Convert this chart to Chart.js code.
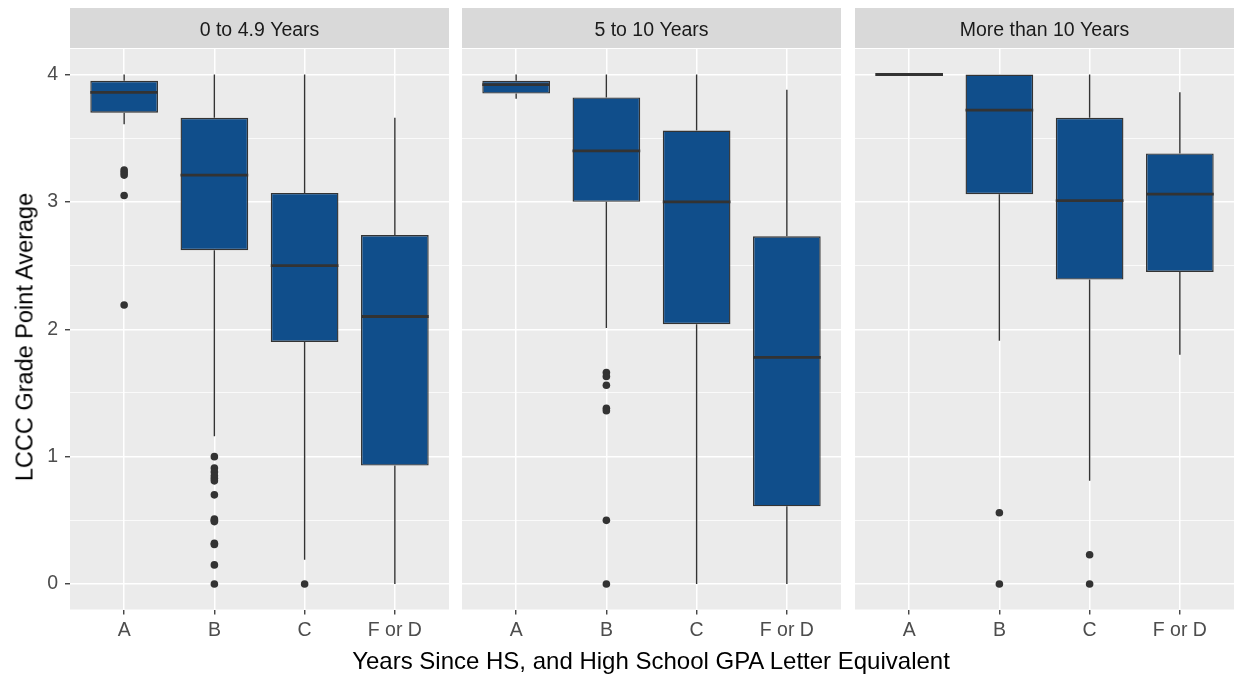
<!DOCTYPE html>
<html>
<head>
<meta charset="utf-8">
<script src="https://cdn.jsdelivr.net/npm/chart.js@4.4.1/dist/chart.umd.min.js"></script>
<style>
  html, body { margin: 0; padding: 0; background: #ffffff; }
  body { width: 1236px; height: 677px; position: relative; overflow: hidden;
         font-family: "Liberation Sans", Arial, sans-serif; }
  canvas { position: absolute; top: 0; }
  #ytitle { position: absolute; left: 25px; top: 337px; transform: translate(-50%, -50%) rotate(-90deg);
            font-size: 23.5px; white-space: nowrap; color: #000; }
  #xtitle { position: absolute; left: 651px; top: 661px; transform: translate(-50%, -50%);
            font-size: 24px; white-space: nowrap; color: #000; }
</style>
</head>
<body>
<canvas id="p0" width="449" height="677" style="left:0px"></canvas>
<canvas id="p1" width="379" height="677" style="left:462px"></canvas>
<canvas id="p2" width="379" height="677" style="left:855px"></canvas>
<div id="ytitle">LCCC Grade Point Average</div>
<div id="xtitle">Years Since HS, and High School GPA Letter Equivalent</div>
<script>
// Facets: years since high school
const panels = ['0 to 4.9 Years', '5 to 10 Years', 'More than 10 Years'];
// Categories: high school GPA letter equivalent
const grades = ['A', 'B', 'C', 'F or D'];
// Y axis tick labels
const yTicks = [0, 1, 2, 3, 4];

// Box statistics, one row per facet, one column per grade
const whiskerLow = [
  [3.61, 1.16, 0.19, 0.00],
  [3.81, 2.01, 0.00, 0.00],
  [4.00, 1.91, 0.81, 1.80]
];
const lowerQuartile = [
  [3.70, 2.62, 1.90, 0.93],
  [3.85, 3.00, 2.04, 0.61],
  [4.00, 3.06, 2.39, 2.45]
];
const median = [
  [3.86, 3.21, 2.50, 2.10],
  [3.92, 3.40, 3.00, 1.78],
  [4.00, 3.72, 3.01, 3.06]
];
const upperQuartile = [
  [3.95, 3.66, 3.07, 2.74],
  [3.95, 3.82, 3.56, 2.73],
  [4.00, 4.00, 3.66, 3.38]
];
const whiskerHigh = [
  [4.00, 4.00, 4.00, 3.66],
  [4.00, 4.00, 4.00, 3.88],
  [4.00, 4.00, 4.00, 3.86]
];

// Outlying students, per facet and grade
const outliers = [
  [[3.25, 3.23, 3.21, 3.05, 2.19],
   [1.00, 0.91, 0.88, 0.85, 0.83, 0.81, 0.70, 0.51, 0.50, 0.49, 0.32, 0.31, 0.15, 0.00],
   [0.00],
   []],
  [[],
   [1.66, 1.63, 1.56, 1.38, 1.36, 0.50, 0.00],
   [],
   []],
  [[],
   [0.56, 0.00],
   [0.23, 0.00],
   []]
];

const FONT = '"Liberation Sans", Arial, sans-serif';
const BOX_FILL = '#104E8B';
const INK = '#333333';
const TICK_SIZE = 19.5;

// Grey panel background and facet strip
const panelDecor = {
  id: 'panelDecor',
  beforeDraw(chart, args, opts) {
    const { ctx, chartArea: a } = chart;
    ctx.save();
    ctx.fillStyle = '#EBEBEB';
    ctx.fillRect(a.left, a.top, a.right - a.left, a.bottom - a.top);
    ctx.fillStyle = '#D9D9D9';
    ctx.fillRect(a.left, 8, a.right - a.left, a.top - 9);
    ctx.fillStyle = '#1A1A1A';
    ctx.font = TICK_SIZE + 'px ' + FONT;
    ctx.textAlign = 'center';
    ctx.textBaseline = 'middle';
    ctx.fillText(opts.label, (a.left + a.right) / 2, (8 + a.top) / 2 + 2);
    ctx.restore();
  }
};

// Whiskers under the boxes, medians on top of them
const boxParts = {
  id: 'boxParts',
  beforeDatasetsDraw(chart, args, opts) {
    const { ctx, scales: { x, y } } = chart;
    const p = opts.panel;
    ctx.save();
    ctx.strokeStyle = INK;
    ctx.lineWidth = 1.4;
    grades.forEach((g, i) => {
      const px = x.getPixelForValue(i + 1);
      ctx.beginPath();
      ctx.moveTo(px, y.getPixelForValue(whiskerLow[p][i]));
      ctx.lineTo(px, y.getPixelForValue(lowerQuartile[p][i]));
      ctx.moveTo(px, y.getPixelForValue(upperQuartile[p][i]));
      ctx.lineTo(px, y.getPixelForValue(whiskerHigh[p][i]));
      ctx.stroke();
    });
    ctx.restore();
  },
  afterDatasetsDraw(chart, args, opts) {
    const { ctx, scales: { y } } = chart;
    const p = opts.panel;
    const bars = chart.getDatasetMeta(0).data;
    ctx.save();
    ctx.strokeStyle = INK;
    ctx.lineWidth = 2.8;
    grades.forEach((g, i) => {
      const el = bars[i];
      const py = y.getPixelForValue(median[p][i]);
      ctx.beginPath();
      ctx.moveTo(el.x - el.width / 2, py);
      ctx.lineTo(el.x + el.width / 2, py);
      ctx.stroke();
    });
    ctx.restore();
  }
};

function buildPanel(p) {
  const first = p === 0;
  const boxes = grades.map((g, i) => ({ x: i + 1, y: [lowerQuartile[p][i], upperQuartile[p][i]] }));
  const points = [];
  outliers[p].forEach((vals, i) => vals.forEach(v => points.push({ x: i + 1, y: v })));

  new Chart(document.getElementById('p' + p), {
    type: 'bar',
    data: {
      datasets: [
        {
          type: 'bar',
          data: boxes,
          backgroundColor: BOX_FILL,
          borderColor: INK,
          borderWidth: 1.4,
          borderSkipped: false,
          categoryPercentage: 1,
          barPercentage: 0.75,
          grouped: false,
          order: 2
        },
        {
          type: 'line',
          data: points,
          showLine: false,
          pointRadius: 3.8,
          pointHoverRadius: 3.8,
          pointBackgroundColor: INK,
          pointBorderWidth: 0,
          order: 1
        }
      ]
    },
    options: {
      responsive: false,
      animation: false,
      devicePixelRatio: 1,
      layout: { autoPadding: false, padding: { top: 49, left: 0, right: 0, bottom: 0 } },
      plugins: {
        legend: { display: false },
        tooltip: { enabled: false },
        panelDecor: { label: panels[p] },
        boxParts: { panel: p }
      },
      scales: {
        x: {
          type: 'linear',
          min: 0.4,
          max: 4.6,
          offset: false,
          afterBuildTicks: s => { s.ticks = grades.map((g, i) => ({ value: i + 1 })); },
          afterFit: s => { s.height = 67.5; s.paddingLeft = 0; s.paddingRight = 0; },
          border: { display: false },
          grid: {
            offset: false,
            color: '#FFFFFF',
            lineWidth: 1.5,
            drawTicks: true,
            tickLength: 5,
            tickColor: INK,
            tickWidth: 1.3
          },
          ticks: {
            autoSkip: false,
            maxRotation: 0,
            padding: 4,
            color: '#4D4D4D',
            font: { family: FONT, size: TICK_SIZE },
            callback: v => grades[Math.round(v) - 1]
          }
        },
        y: {
          type: 'linear',
          min: -0.2,
          max: 4.2,
          afterBuildTicks: s => {
            const t = [];
            for (let k = 0; k <= 8; k++) t.push({ value: k / 2 });
            s.ticks = t;
          },
          afterFit: s => { s.width = first ? 70 : 0; s.paddingTop = 0; s.paddingBottom = 0; },
          border: { display: false },
          grid: {
            color: '#FFFFFF',
            lineWidth: c => (c.tick && Number.isInteger(c.tick.value)) ? 1.5 : 0.75,
            drawTicks: first,
            tickLength: 5,
            tickWidth: 1.3,
            tickColor: c => (c.tick && Number.isInteger(c.tick.value)) ? INK : 'rgba(0,0,0,0)'
          },
          ticks: {
            display: first,
            autoSkip: false,
            padding: 7,
            color: '#4D4D4D',
            font: { family: FONT, size: TICK_SIZE },
            callback: v => yTicks.includes(v) ? String(v) : ''
          }
        }
      }
    },
    plugins: [panelDecor, boxParts]
  });
}

panels.forEach((name, p) => buildPanel(p));
</script>
</body>
</html>
